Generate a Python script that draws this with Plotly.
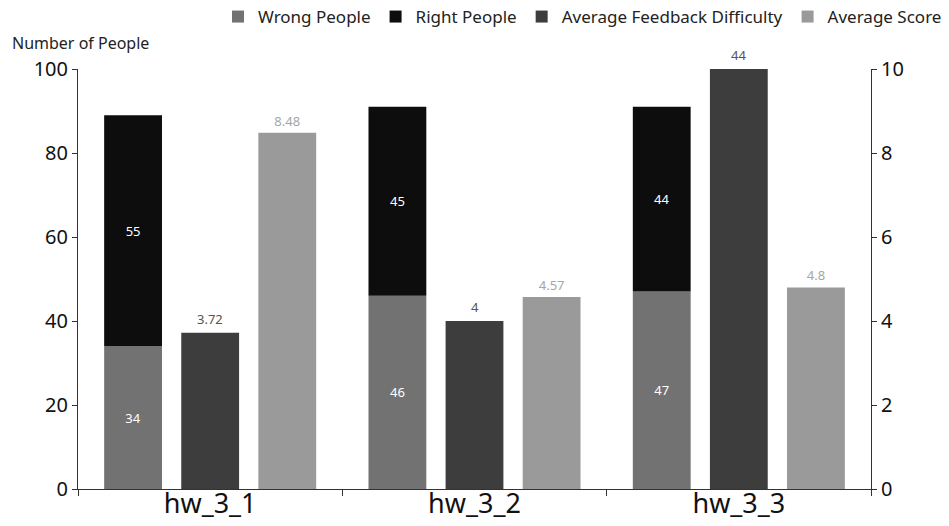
import plotly.graph_objects as go

categories = ["hw_3_1", "hw_3_2", "hw_3_3"]
wrong_people = [34, 46, 47]
right_people = [55, 45, 44]
avg_difficulty = [3.72, 4, 44]
avg_score = [8.48, 4.57, 4.8]

left_range = [0, 100]
right_range = [0, 10]

FONT = "Noto Sans"
AXIS_COLOR = "#333333"
W, H = 949, 526
ML, MR, MT, MB = 78, 78, 69, 37
PW, PH = W - ML - MR, H - MT - MB

fig = go.Figure()

fig.add_trace(go.Bar(
    name="Wrong People", x=categories, y=wrong_people,
    offsetgroup="people", marker=dict(color="#727272", line=dict(width=0)),
    text=wrong_people, textposition="inside", insidetextanchor="middle",
    textfont=dict(color="white", size=13, family=FONT),
    yaxis="y",
))
fig.add_trace(go.Bar(
    name="Right People", x=categories, y=right_people,
    base=wrong_people, offsetgroup="people",
    marker=dict(color="#0d0d0d", line=dict(width=0)),
    text=right_people, textposition="inside", insidetextanchor="middle",
    textfont=dict(color="white", size=13, family=FONT),
    yaxis="y",
))
fig.add_trace(go.Bar(
    name="Average Feedback Difficulty", x=categories, y=avg_difficulty,
    offsetgroup="difficulty", marker=dict(color="#3d3d3d", line=dict(width=0)),
    textposition="none",
    yaxis="y2",
))
fig.add_trace(go.Bar(
    name="Average Score", x=categories, y=avg_score,
    offsetgroup="score", marker=dict(color="#9a9a9a", line=dict(width=0)),
    text=avg_score, textposition="outside",
    textfont=dict(color="#a6a6a6", size=13, family=FONT),
    cliponaxis=False,
    yaxis="y2",
))

# value labels for the difficulty bars (middle bar of each group), held at the axis top
annotations = []
for cat, v in zip(categories, avg_difficulty):
    annotations.append(dict(
        x=cat, y=min(v, right_range[1]), xref="x", yref="y2",
        text=str(v), showarrow=False, yanchor="bottom", yshift=3,
        font=dict(color="#555555", size=13, family=FONT),
    ))

# left axis title, set above the top-left corner of the plot
annotations.append(dict(
    x=(10 - ML) / PW, xref="paper", xanchor="left",
    y=1 + (MT - 43) / PH, yref="paper", yanchor="middle",
    text="Number of People", showarrow=False,
    font=dict(color="#222222", size=16, family=FONT),
))

fig.update_layout(
    width=W, height=H,
    margin=dict(l=ML, r=MR, t=MT, b=MB, autoexpand=False),
    plot_bgcolor="white", paper_bgcolor="white",
    barmode="group", bargap=0.125, bargroupgap=0.25,
    font=dict(family=FONT, color="#222222"),
    showlegend=True,
    legend=dict(
        orientation="h", xref="container", x=1 - 2 / W, xanchor="right",
        yref="container", y=1 - 17 / H, yanchor="middle",
        font=dict(size=17, family=FONT, color="#222222"),
        traceorder="normal", itemwidth=30,
    ),
    xaxis=dict(
        type="category", showline=True, linecolor=AXIS_COLOR, linewidth=1,
        ticks="outside", tickson="boundaries", ticklen=6, tickcolor=AXIS_COLOR,
        ticklabelstandoff=-9,
        tickfont=dict(size=27, family=FONT, color="#111111"),
        showgrid=False, automargin=False,
    ),
    yaxis=dict(
        range=left_range, dtick=20, showline=True, linecolor=AXIS_COLOR,
        ticks="outside", ticklen=5, tickcolor=AXIS_COLOR, showgrid=False,
        zeroline=False, tickfont=dict(size=20, family=FONT, color="#111111"),
        automargin=False,
    ),
    yaxis2=dict(
        range=right_range, dtick=2, overlaying="y", side="right",
        showline=True, linecolor=AXIS_COLOR, ticks="outside", ticklen=5,
        tickcolor=AXIS_COLOR, showgrid=False, zeroline=False,
        tickfont=dict(size=20, family=FONT, color="#111111"),
        automargin=False,
    ),
    annotations=annotations,
)

fig.write_html("out.html")
